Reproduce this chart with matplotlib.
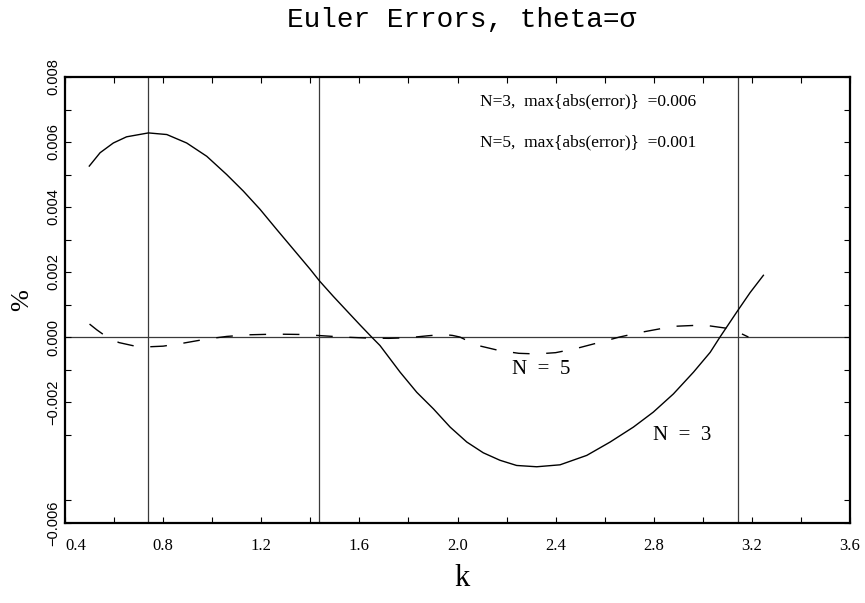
import numpy as np
import matplotlib
matplotlib.use("Agg")
import matplotlib.pyplot as plt
from matplotlib.ticker import FixedLocator

# ---- data (values in %, i.e. error units) ----
k_n3 = [0.499, 0.543, 0.597, 0.651, 0.740, 0.815, 0.896, 0.978, 1.059, 1.127,
        1.195, 1.263, 1.331, 1.399, 1.437, 1.494, 1.562, 1.603, 1.650, 1.684,
        1.725, 1.766, 1.834, 1.902, 1.970, 2.038, 2.105, 2.173, 2.241, 2.323,
        2.418, 2.527, 2.622, 2.717, 2.798, 2.880, 2.962, 3.030, 3.070, 3.142,
        3.193, 3.247]
err_n3 = [5.26, 5.67, 5.97, 6.16, 6.28, 6.23, 5.97, 5.56, 5.00, 4.49,
          3.93, 3.31, 2.70, 2.09, 1.73, 1.25, 0.70, 0.37, 0.00, -0.26,
          -0.67, -1.08, -1.70, -2.21, -2.77, -3.23, -3.56, -3.79, -3.95, -3.99,
          -3.93, -3.64, -3.23, -2.77, -2.31, -1.75, -1.08, -0.47, 0.00, 0.81,
          1.37, 1.90]

k_n5 = [0.50, 0.53, 0.571, 0.62, 0.68, 0.74, 0.80, 0.88, 0.978, 1.06,
        1.15, 1.26, 1.36, 1.45, 1.533, 1.63, 1.72, 1.80, 1.88, 1.943,
        1.98, 2.01, 2.078, 2.173, 2.25, 2.323, 2.40, 2.48, 2.581, 2.66,
        2.744, 2.88, 3.003, 3.098, 3.15, 3.186]
err_n5 = [0.40, 0.22, 0.00, -0.17, -0.27, -0.30, -0.28, -0.19, -0.06, 0.02,
          0.07, 0.09, 0.08, 0.04, 0.00, -0.03, -0.04, -0.02, 0.04, 0.08,
          0.05, 0.00, -0.25, -0.42, -0.50, -0.52, -0.48, -0.36, -0.16, 0.00,
          0.14, 0.33, 0.37, 0.27, 0.13, 0.00]

vlines_k = [0.740, 1.437, 3.144]

x_major = [0.4, 0.8, 1.2, 1.6, 2.0, 2.4, 2.8, 3.2, 3.6]
x_labels = ["0.4", "0.8", "1.2", "1.6", "2.0", "2.4", "2.8", "3.2", "3.6"]
y_bottom = -0.00572
y_major = [y_bottom, -0.002, 0.000, 0.002, 0.004, 0.006, 0.008]
y_labels = ["\u22120.006", "\u22120.002", "0.000", "0.002", "0.004", "0.006", "0.008"]

title = "Euler Errors, theta=\u03c3"
note1 = "N=3,  max{abs(error)}  =0.006"
note2 = "N=5,  max{abs(error)}  =0.001"

# ---- figure ----
W, H = 865, 603
fig = plt.figure(figsize=(W / 100, H / 100), dpi=100)
ax = fig.add_axes([65 / W, 1 - 523 / H, (850 - 65) / W, (523 - 77) / H])

ax.set_xlim(0.4, 3.6)
ax.set_ylim(y_bottom, 0.008)

ax.axhline(0.0, color="#3a3a3a", lw=0.9, zorder=1)
for kv in vlines_k:
    ax.axvline(kv, color="#3a3a3a", lw=0.9, zorder=1)

ax.plot(k_n3, np.array(err_n3) * 1e-3, color="black", lw=1.0, zorder=3)
ax.plot(k_n5, np.array(err_n5) * 1e-3, color="black", lw=1.0,
        dashes=(12, 12), zorder=3)

# ticks
ax.xaxis.set_major_locator(FixedLocator(x_major))
ax.set_xticklabels(x_labels)
ax.xaxis.set_minor_locator(FixedLocator(np.arange(0.6, 3.5, 0.4)))
ax.yaxis.set_major_locator(FixedLocator(y_major))
ax.set_yticklabels(y_labels)
ax.yaxis.set_minor_locator(FixedLocator(np.arange(-0.005, 0.0075, 0.002)))

ax.tick_params(which="both", direction="in", length=4.5, width=0.8,
               top=True, right=True, color="black")
ax.tick_params(axis="x", which="major", pad=11)
ax.tick_params(axis="y", which="major", pad=3.5)
xlbls = ax.get_xticklabels()
for lbl in xlbls:
    lbl.set_fontfamily("Liberation Serif")
    lbl.set_fontsize(12)
xlbls[0].set_ha("left")
for lbl in ax.get_yticklabels():
    lbl.set_fontfamily("Liberation Sans")
    lbl.set_fontsize(10.5)
    lbl.set_rotation(90)
    lbl.set_va("center")

for sp in ax.spines.values():
    sp.set_linewidth(1.6)

# labels
fig.text(462 / W, 1 - 20 / H, title, ha="center", va="center",
         family="Liberation Mono", fontsize=20)
fig.text(462 / W, 1 - 578 / H, "k", ha="center", va="center",
         family="Liberation Serif", fontsize=22)
fig.text(22 / W, 1 - 300 / H, "%", ha="center", va="center", rotation=90,
         family="Liberation Serif", fontsize=19)

ax.text((480 - 65) / 785, (523 - 101) / 446, note1, transform=ax.transAxes,
        ha="left", va="center", family="Liberation Serif", fontsize=12.5)
ax.text((480 - 65) / 785, (523 - 142) / 446, note2, transform=ax.transAxes,
        ha="left", va="center", family="Liberation Serif", fontsize=12.5)

ax.text(2.222, -1.01e-3, "N  =  5", ha="left", va="center",
        family="Liberation Serif", fontsize=15)
ax.text(2.797, -3.04e-3, "N  =  3", ha="left", va="center",
        family="Liberation Serif", fontsize=15)

fig.savefig("out.png", dpi=100)
